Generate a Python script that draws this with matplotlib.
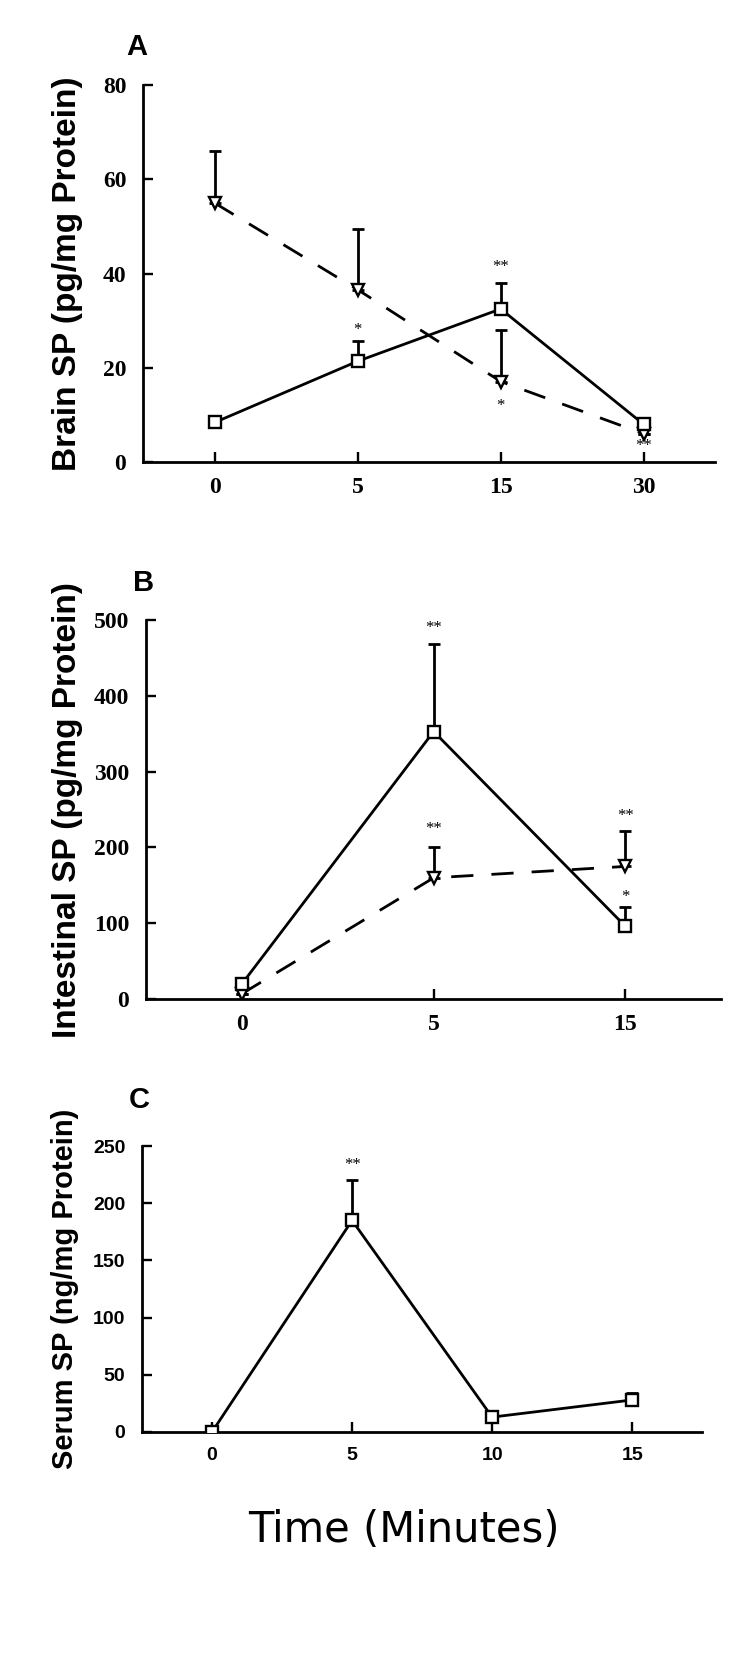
import numpy as np
import matplotlib.pyplot as plt

plt.rcParams['font.family'] = ['Liberation Sans', 'DejaVu Sans']

# panel A : brain SP
brain_t = ['0', '5', '15', '30']
brain_sq = [8.4, 21.4, 32.5, 8.0]
brain_sq_err = [0, 4.2, 5.5, 0.5]
brain_tri = [55.0, 36.6, 17.1, 6.0]
brain_tri_err = [11.0, 12.9, 10.9, 0]
brain_stars = ['*', '**', '*', '**']
brain_star_x = [1, 2, 2, 3]
brain_star_y = [28.0, 41.5, 12.0, 3.5]

# panel B : intestinal SP
gut_t = ['0', '5', '15']
gut_sq = [20, 353, 96]
gut_sq_err = [0, 115, 26]
gut_tri = [7, 160, 175]
gut_tri_err = [0, 41, 47]
gut_stars = ['**', '**', '**', '*']
gut_star_x = [1, 1, 2, 2]
gut_star_y = [490, 225, 242, 135]

# panel C : serum SP
serum_t = ['0', '5', '10', '15']
serum_sq = [0, 185, 13, 28]
serum_sq_err = [0, 35, 4, 6]
serum_stars = ['**']
serum_star_x = [1]
serum_star_y = [233]

fig = plt.figure(figsize=(7.5, 16.76), dpi=100)

def style_axes(ax, ticklabels, yticks, tickfont, tsize):
    ax.spines['top'].set_visible(False)
    ax.spines['right'].set_visible(False)
    for s in ['left', 'bottom']:
        ax.spines[s].set_linewidth(2.0)
    ax.set_xticks(range(len(ticklabels)))
    ax.set_xticklabels(ticklabels)
    ax.set_yticks(yticks)
    ax.tick_params(direction='in', length=7, width=1.7, pad=12, labelsize=tsize)
    ax.tick_params(axis='x', pad=11)
    for lab in ax.get_xticklabels() + ax.get_yticklabels():
        lab.set_family(tickfont)
        lab.set_fontweight('bold')

def draw_series(ax, vals, err, marker, ls):
    x = np.arange(len(vals))
    ax.plot(x, vals, color='black', lw=2.0, ls=ls, zorder=2)
    ax.errorbar(x, vals, yerr=[np.zeros(len(err)), err], fmt='none', ecolor='black',
                elinewidth=2.0, capsize=4, capthick=2.0, zorder=3)
    ax.plot(x, vals, ls='none', marker=marker, ms=8, mfc='white', mec='black',
            mew=1.7, zorder=4)

def draw_stars(ax, stars, sx, sy):
    for s, xx, yy in zip(stars, sx, sy):
        ax.text(xx, yy, s, ha='center', va='center', fontsize=12,
                family=['Liberation Serif'])

dash = (0, (8, 6.5))
tickfont_ab = ['Liberation Serif']

# ---- A
axA = fig.add_axes([0.1907, 0.7243, 0.763, 0.2249])
draw_series(axA, brain_tri, brain_tri_err, 'v', dash)
draw_series(axA, brain_sq, brain_sq_err, 's', '-')
draw_stars(axA, brain_stars, brain_star_x, brain_star_y)
axA.set_xlim(-0.5, 3.5)
axA.set_ylim(0, 80)
style_axes(axA, brain_t, [0, 20, 40, 60, 80], tickfont_ab, 17)
axA.set_ylabel('Brain SP (pg/mg Protein)', fontsize=24, fontweight='bold', labelpad=14)
fig.text(137 / 750, 1 - 47 / 1676, 'A', fontsize=21, fontweight='bold', ha='center', va='center')

# ---- B
axB = fig.add_axes([0.1947, 0.4039, 0.767, 0.2261])
draw_series(axB, gut_tri, gut_tri_err, 'v', dash)
draw_series(axB, gut_sq, gut_sq_err, 's', '-')
draw_stars(axB, gut_stars, gut_star_x, gut_star_y)
axB.set_xlim(-0.5, 2.5)
axB.set_ylim(0, 500)
style_axes(axB, gut_t, [0, 100, 200, 300, 400, 500], tickfont_ab, 17)
axB.set_ylabel('Intestinal SP (pg/mg Protein)', fontsize=24, fontweight='bold', labelpad=8)
fig.text(144 / 750, 1 - 583 / 1676, 'B', fontsize=21, fontweight='bold', ha='center', va='center')

# ---- C
axC = fig.add_axes([0.1893, 0.1456, 0.747, 0.1706])
draw_series(axC, serum_sq, serum_sq_err, 's', '-')
draw_stars(axC, serum_stars, serum_star_x, serum_star_y)
axC.set_xlim(-0.5, 3.5)
axC.set_ylim(0, 250)
style_axes(axC, serum_t, [0, 50, 100, 150, 200, 250], ['Liberation Sans'], 14)
axC.set_ylabel('Serum SP (ng/mg Protein)', fontsize=21, fontweight='bold', labelpad=10)
fig.text(139 / 750, 1 - 1100 / 1676, 'C', fontsize=21, fontweight='bold', ha='center', va='center')

fig.text(404 / 750, 1 - 1530 / 1676, 'Time (Minutes)', fontsize=30,
         family=['DejaVu Sans'], ha='center', va='center')

plt.savefig('out.png', dpi=100)
